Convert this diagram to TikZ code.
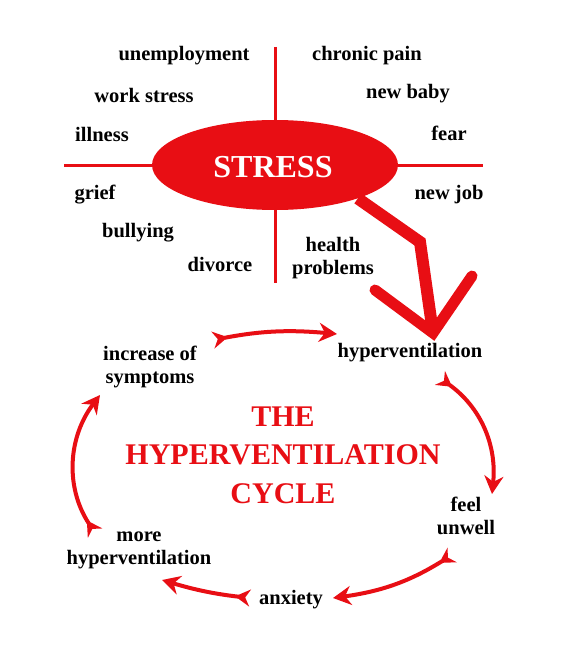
\documentclass[tikz,border=0pt]{standalone}
\usepackage{fontspec}
\setmainfont{Liberation Serif}
\usepackage{tikz}
\usepackage{xcolor}
\usetikzlibrary{arrows.meta, shapes.geometric}

\definecolor{stressred}{RGB}{232,14,20}

\tikzset{
  cause/.style={font=\fontsize{20.5}{23}\selectfont\bfseries, align=center, inner sep=1pt},
  cyclestep/.style={font=\fontsize{20.5}{23}\selectfont\bfseries, align=center, inner sep=1pt},
  cross/.style={stressred, line width=3pt},
  cyclearrow/.style={stressred, line width=4pt, arrows={Stealth[reversed,length=15pt,width=17pt]-Stealth[length=18pt,width=19pt]}}
}

\begin{document}
\begin{tikzpicture}[x=1pt, y=-1pt]
  \useasboundingbox[fill=white] (0,0) rectangle (560,660);

  % Stress ellipse
  \draw[cross] (275,47) -- (275,283);
  \draw[cross] (64,166) -- (483,166);
  \node[ellipse, fill=stressred, minimum width=246pt, minimum height=90pt, inner sep=0pt] (stress) at (275,165) {};
  \node[text=white, font=\fontsize{32}{34}\selectfont\bfseries] (stresstext) at (273,167) {STRESS};

  % Causes
  \node[cause] (unemployment) at (184,56) {unemployment};
  \node[cause] (chronic) at (367,56) {chronic pain};
  \node[cause] (work) at (144,95) {work stress};
  \node[cause] (baby) at (408,94) {new baby};
  \node[cause] (illness) at (102,134) {illness};
  \node[cause] (fear) at (449,133) {fear};
  \node[cause] (grief) at (95,195) {grief};
  \node[cause] (newjob) at (449,195) {new job};
  \node[cause] (bullying) at (138,233) {bullying};
  \node[cause] (divorce) at (220,264) {divorce};
  \node[cause] (health) at (333,258) {health\\problems};

  % Cycle steps
  \node[cyclestep] (hyper) at (410,353) {hyperventilation};
  \node[cyclestep] (feel) at (466,516) {feel\\unwell};
  \node[cyclestep] (anxiety) at (291,600) {anxiety};
  \node[cyclestep] (more) at (139,550) {more\\hyperventilation};
  \node[cyclestep] (increase) at (150,367) {increase of\\symptoms};

  % Title
  \node[text=stressred, align=center, font=\fontsize{30}{38.5}\selectfont\bfseries] (title) at (283,455) {THE\\HYPERVENTILATION\\CYCLE};

  % Big arrow from stress
  \coordinate (bend) at (420,242);
  \coordinate (tip) at (433,333);
  \draw[stressred, line width=12pt, line join=miter] (stress.-22) -- (bend) -- (tip);
  \draw[stressred, line width=11pt, line cap=round, line join=miter] (375,290) -- (tip) -- (472,276);

  % Cycle arrows
  \coordinate (a1) at (213,340); \coordinate (b1) at (337,334);
  \coordinate (a2) at (440,378); \coordinate (b2) at (492,494);
  \coordinate (a3) at (452,555); \coordinate (b3) at (333,598);
  \coordinate (a4) at (250,598); \coordinate (b4) at (162,580);
  \coordinate (a5) at (95,533);  \coordinate (b5) at (100,395);
  \draw[cyclearrow] (a1) to[bend left=8] (b1);
  \draw[cyclearrow] (a2) to[bend left=30] (b2);
  \draw[cyclearrow] (a3) to[bend left=12] (b3);
  \draw[cyclearrow] (a4) to[bend left=5] (b4);
  \draw[cyclearrow] (a5) to[bend left=35] (b5);
\end{tikzpicture}
\end{document}
